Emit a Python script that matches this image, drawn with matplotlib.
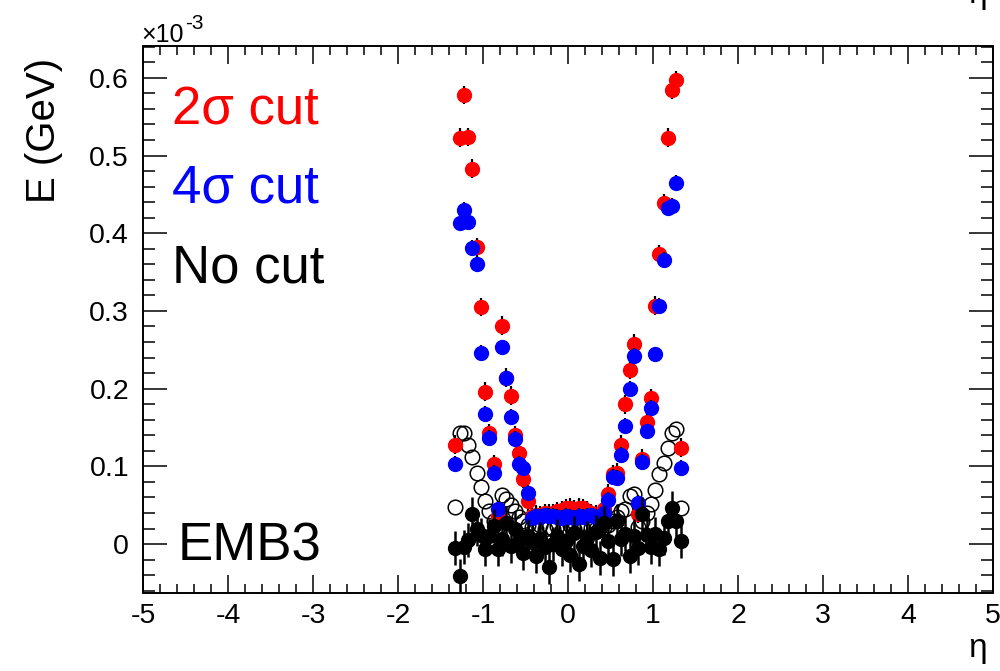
import matplotlib
matplotlib.use("Agg")
import matplotlib.pyplot as plt
from matplotlib.ticker import MultipleLocator

plt.rcParams["font.family"] = ["Liberation Sans", "DejaVu Sans"]
plt.rcParams["axes.unicode_minus"] = False

# eta bin centres of EMB3 (|eta| < 1.35, width 0.05)
ETA = [
    -1.325, -1.275, -1.225, -1.175, -1.125, -1.075, -1.025, -0.975, -0.925,
    -0.875, -0.825, -0.775, -0.725, -0.675, -0.625, -0.575, -0.525, -0.475,
    -0.425, -0.375, -0.325, -0.275, -0.225, -0.175, -0.125, -0.075, -0.025,
    0.025, 0.075, 0.125, 0.175, 0.225, 0.275, 0.325, 0.375, 0.425,
    0.475, 0.525, 0.575, 0.625, 0.675, 0.725, 0.775, 0.825, 0.875,
    0.925, 0.975, 1.025, 1.075, 1.125, 1.175, 1.225, 1.275, 1.325,
]

# mean energy, units of 1e-3 GeV
E_2SIGMA = [
    0.128, 0.523, 0.578, 0.524, 0.483, 0.382, 0.305, 0.196, 0.143,
    0.103, 0.036, 0.281, 0.214, 0.191, 0.140, 0.117, 0.084, 0.055,
    0.036, 0.038, 0.037, 0.040, 0.039, 0.040, 0.042, 0.044, 0.046,
    0.047, 0.045, 0.047, 0.046, 0.043, 0.040, 0.038, 0.037, 0.045,
    0.065, 0.090, 0.092, 0.128, 0.180, 0.224, 0.258, 0.039, 0.110,
    0.157, 0.188, 0.307, 0.373, 0.439, 0.523, 0.585, 0.597, 0.124,
]
E_4SIGMA = [
    0.103, 0.413, 0.430, 0.414, 0.381, 0.361, 0.246, 0.168, 0.137,
    0.092, 0.045, 0.253, 0.214, 0.164, 0.135, 0.103, 0.098, 0.066,
    0.034, 0.036, 0.035, 0.037, 0.036, 0.036, 0.035, 0.034, 0.036,
    0.035, 0.034, 0.036, 0.035, 0.036, 0.037, 0.035, 0.034, 0.040,
    0.057, 0.086, 0.085, 0.115, 0.152, 0.200, 0.242, 0.053, 0.106,
    0.145, 0.175, 0.244, 0.307, 0.366, 0.432, 0.435, 0.465, 0.098,
]
E_OPEN = [
    0.048, 0.143, 0.143, 0.127, 0.112, 0.092, 0.074, 0.055, 0.042,
    0.030, 0.022, 0.063, 0.058, 0.050, 0.042, 0.035, 0.030, 0.025,
    0.022, 0.020, 0.024, 0.019, 0.022, 0.020, 0.023, 0.018, 0.021,
    0.024, 0.020, 0.022, 0.019, 0.023, 0.021, 0.020, 0.022, 0.022,
    0.025, 0.030, 0.035, 0.043, 0.045, 0.062, 0.064, 0.022, 0.030,
    0.040, 0.052, 0.070, 0.090, 0.104, 0.124, 0.143, 0.148, 0.046,
]
E_NOCUT = [
    -0.005, -0.041, -0.004, 0.005, 0.039, 0.020, 0.012, -0.006, 0.010,
    0.023, -0.006, 0.006, 0.027, -0.003, 0.020, 0.004, -0.012, 0.010,
    0.002, -0.015, 0.006, -0.004, -0.030, 0.000, 0.010, -0.006, 0.004,
    -0.014, 0.014, -0.026, -0.002, 0.008, -0.008, 0.016, -0.018, 0.027,
    0.004, -0.019, 0.030, 0.006, 0.013, -0.015, 0.010, -0.005, 0.039,
    0.012, -0.004, 0.013, -0.006, 0.008, 0.030, 0.046, 0.030, 0.004,
]
ERR_2SIGMA = 0.012
ERR_4SIGMA = 0.010
ERR_NOCUT = 0.022

fig = plt.figure(figsize=(10, 6.71), dpi=100)
ax = fig.add_axes([0.143, 1 - 593 / 671, 0.85, 547 / 671])

ax.plot(ETA, E_OPEN, "o", ms=10.5, mfc="none", mec="black", mew=1.1, zorder=1)
ax.errorbar(ETA, E_2SIGMA, yerr=ERR_2SIGMA, fmt="o", ms=10, color="#ff0000",
            ecolor="black", elinewidth=1.6, capsize=0, zorder=2)
ax.errorbar(ETA, E_4SIGMA, yerr=ERR_4SIGMA, fmt="o", ms=10, color="#0000ff",
            ecolor="black", elinewidth=1.6, capsize=0, zorder=3)
ax.errorbar(ETA, E_NOCUT, yerr=ERR_NOCUT, fmt="o", ms=10, color="black",
            ecolor="black", elinewidth=1.8, capsize=0, zorder=4)

ax.set_xlim(-5, 5)
ax.set_ylim(-0.063, 0.641)
ax.xaxis.set_major_locator(MultipleLocator(1))
ax.xaxis.set_minor_locator(MultipleLocator(0.2))
ax.yaxis.set_major_locator(MultipleLocator(0.1))
ax.yaxis.set_minor_locator(MultipleLocator(0.02))
ax.yaxis.set_major_formatter(plt.FuncFormatter(lambda v, p: f"{v:g}"))

ax.tick_params(which="both", direction="in", top=True, right=True, width=1.1,
               colors="black", labelsize=20.5)
ax.tick_params(axis="x", which="major", length=13, pad=7)
ax.tick_params(axis="x", which="minor", length=6.5)
ax.tick_params(axis="y", which="major", length=17, pad=10)
ax.tick_params(axis="y", which="minor", length=8.6)
for spine in ax.spines.values():
    spine.set_linewidth(1.4)

ax.text(0.034, 0.856, "2σ cut", color="#ff0000", fontsize=38,
        transform=ax.transAxes, va="baseline")
ax.text(0.034, 0.713, "4σ cut", color="#0000ff", fontsize=38,
        transform=ax.transAxes, va="baseline")
ax.text(0.034, 0.567, "No cut", color="black", fontsize=38,
        transform=ax.transAxes, va="baseline")
ax.text(0.041, 0.060, "EMB3", color="black", fontsize=38,
        transform=ax.transAxes, va="baseline")

fig.text(0.044, 1 - 58 / 671, "E (GeV)", rotation=90, ha="center", va="top",
         fontsize=29)
fig.text(0.141, 1 - 42 / 671, "×10", fontsize=18, va="baseline")
fig.text(0.185, 1 - 29 / 671, "-3", fontsize=15, va="baseline")
fig.text(0.987, 1 - 657 / 671, "η", fontsize=24, ha="right", va="baseline")
# clipped axis title at the top edge, as in the source image
fig.text(0.987, 1 - 3 / 671, "η", fontsize=24, ha="right", va="baseline")

fig.savefig("out.png", dpi=100)
